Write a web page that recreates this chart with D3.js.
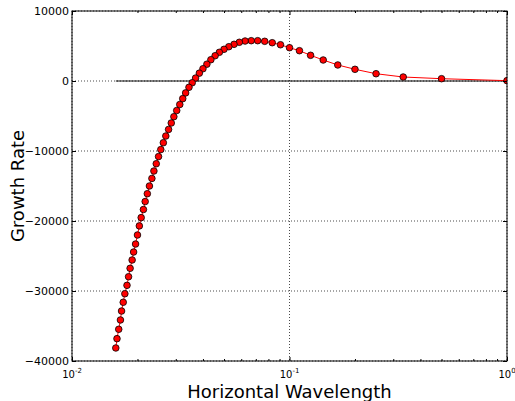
<!DOCTYPE html>
<meta charset="utf-8">

<!-- Load d3.js -->
<script src="https://d3js.org/d3.v7.min.js"></script>

<style>
    body { margin: 0; background: #fff; }
    text { font-family: "DejaVu Sans", sans-serif; fill: #000; }
</style>

<!-- Create a div where the graph will take place -->
<div id="my_dataviz"></div>

<script>

    // horizontal wavelength of each mode (x)
    const wavelength = [1, 0.5, 0.3333, 0.25, 0.2, 0.1667, 0.1429, 0.125, 0.1111, 0.1,
        0.0909, 0.0833, 0.0769, 0.0714, 0.0667, 0.0625, 0.0588, 0.0556, 0.0526, 0.05,
        0.0476, 0.0455, 0.0435, 0.0417, 0.04, 0.0385, 0.037, 0.0357, 0.0345, 0.0333,
        0.0323, 0.0313, 0.0303, 0.0294, 0.0286, 0.0278, 0.027, 0.0263, 0.0256, 0.025,
        0.0244, 0.0238, 0.0233, 0.0227, 0.0222, 0.0217, 0.0213, 0.0208, 0.0204, 0.02,
        0.0196, 0.0192, 0.0189, 0.0185, 0.0182, 0.0179, 0.0175, 0.0172, 0.0169, 0.0167,
        0.0164, 0.0161, 0.0159]

    // growth rate (y)
    const growthRate = [50, 330, 570, 1040, 1670, 2290, 3000, 3670, 4330, 4760,
        5180, 5470, 5670, 5760, 5760, 5710, 5530, 5240, 4900, 4530,
        4100, 3610, 3040, 2400, 1750, 1120, 420, -250, -900, -1700,
        -2520, -3360, -4220, -5100, -6000, -6920, -7860, -8820, -9800, -10800,
        -11820, -12860, -13920, -15000, -16100, -17220, -18360, -19520, -20700, -22000,
        -23290, -24430, -25570, -26760, -27960, -29190, -30390, -31610, -32860, -34140,
        -35470, -36810, -38140]

    // tick values
    const xMajorTicks = [0.01, 0.1, 1]
    const xMajorExp = ["-2", "-1", "0"]
    const xMinorTicks = [0.02, 0.03, 0.04, 0.05, 0.06, 0.07, 0.08, 0.09,
        0.2, 0.3, 0.4, 0.5, 0.6, 0.7, 0.8, 0.9]
    const yTicks = [-40000, -30000, -20000, -10000, 0, 10000]

    // set the dimensions and margins of the graph
    const margin = {top: 11, right: 8, bottom: 40, left: 72},
        width = 515 - margin.left - margin.right,
        height = 401 - margin.top - margin.bottom;

    const svg = d3.select("#my_dataviz")
        .append("svg")
        .attr("width", 515)
        .attr("height", 401)
        .append("g")
        .attr("transform", `translate(${margin.left},${margin.top})`);

    const x = d3.scaleLog()
        .domain([0.01, 1])
        .range([0, width]);

    const y = d3.scaleLinear()
        .domain([-40000, 10000])
        .range([height, 0]);

    svg.append("clipPath").attr("id", "clip")
        .append("rect").attr("width", width).attr("height", height)

    // dotted grid
    const grid = svg.append("g")
        .attr("stroke", "#000")
        .attr("stroke-width", 1)
        .attr("stroke-dasharray", "1,2")
        .attr("opacity", 0.7)
    grid.selectAll("line.gx")
        .data(xMajorTicks)
        .join("line")
        .attr("x1", d => x(d)).attr("x2", d => x(d))
        .attr("y1", 0).attr("y2", height)
    grid.selectAll("line.gy")
        .data(yTicks)
        .join("line")
        .attr("class", "gy")
        .attr("x1", 0).attr("x2", width)
        .attr("y1", d => y(d)).attr("y2", d => y(d))

    const data = wavelength.map((w, i) => ({w: w, g: growthRate[i]}))

    const plot = svg.append("g").attr("clip-path", "url(#clip)")

    // zero line
    plot.append("path")
        .datum(data)
        .attr("d", d3.line().x(d => x(d.w)).y(() => y(0)))
        .attr("stroke", "#000")
        .attr("stroke-width", 1)
        .attr("fill", "none")

    // growth rate curve
    plot.append("path")
        .datum(data)
        .attr("d", d3.line().x(d => x(d.w)).y(d => y(d.g)))
        .attr("stroke", "#ff0000")
        .attr("stroke-width", 1)
        .attr("fill", "none")

    plot.selectAll("circle")
        .data(data)
        .join("circle")
        .attr("cx", d => x(d.w))
        .attr("cy", d => y(d.g))
        .attr("r", 3.3)
        .attr("fill", "#ff0000")
        .attr("stroke", "#000")
        .attr("stroke-width", 0.8)

    // ticks on all four sides, pointing inwards
    function ticks(axis) {
        return g => g.call(axis).call(g => g.select(".domain").remove())
            .call(g => g.selectAll("line").attr("stroke", "#000"))
    }
    svg.append("g").attr("transform", `translate(0,${height})`)
        .call(ticks(d3.axisBottom(x).tickValues(xMajorTicks).tickSize(-4).tickFormat("")))
    svg.append("g").attr("transform", `translate(0,${height})`)
        .call(ticks(d3.axisBottom(x).tickValues(xMinorTicks).tickSize(-2).tickFormat("")))
    svg.append("g")
        .call(ticks(d3.axisTop(x).tickValues(xMajorTicks).tickSize(-4).tickFormat("")))
    svg.append("g")
        .call(ticks(d3.axisTop(x).tickValues(xMinorTicks).tickSize(-2).tickFormat("")))
    svg.append("g")
        .call(ticks(d3.axisLeft(y).tickValues(yTicks).tickSize(-4).tickFormat("")))
    svg.append("g").attr("transform", `translate(${width},0)`)
        .call(ticks(d3.axisRight(y).tickValues(yTicks).tickSize(-4).tickFormat("")))

    // frame
    svg.append("rect")
        .attr("width", width).attr("height", height)
        .attr("fill", "none").attr("stroke", "#000").attr("stroke-width", 1)

    // y tick labels
    svg.selectAll("text.ylab")
        .data(yTicks)
        .join("text")
        .attr("class", "ylab")
        .attr("x", -3)
        .attr("y", d => y(d))
        .attr("dy", "0.35em")
        .attr("text-anchor", "end")
        .style("font-size", "11px")
        .text(d => d < 0 ? "\u2212" + Math.abs(d) : d)

    // x tick labels, 10 with a superscript
    const xl = svg.selectAll("text.xlab")
        .data(xMajorTicks)
        .join("text")
        .attr("class", "xlab")
        .attr("x", d => x(d))
        .attr("y", height + 17)
        .attr("text-anchor", "middle")
        .style("font-size", "10px")
    xl.append("tspan").text("10")
    xl.append("tspan")
        .attr("dy", -5)
        .style("font-size", "7px")
        .text((d, i) => xMajorExp[i])

    // axis titles
    svg.append("text")
        .attr("x", width / 2)
        .attr("y", height + 37)
        .attr("text-anchor", "middle")
        .style("font-size", "18px")
        .text("Horizontal Wavelength")

    svg.append("text")
        .attr("transform", `translate(${24 - margin.left},${height / 2}) rotate(-90)`)
        .attr("text-anchor", "middle")
        .style("font-size", "18px")
        .text("Growth Rate")

</script>
